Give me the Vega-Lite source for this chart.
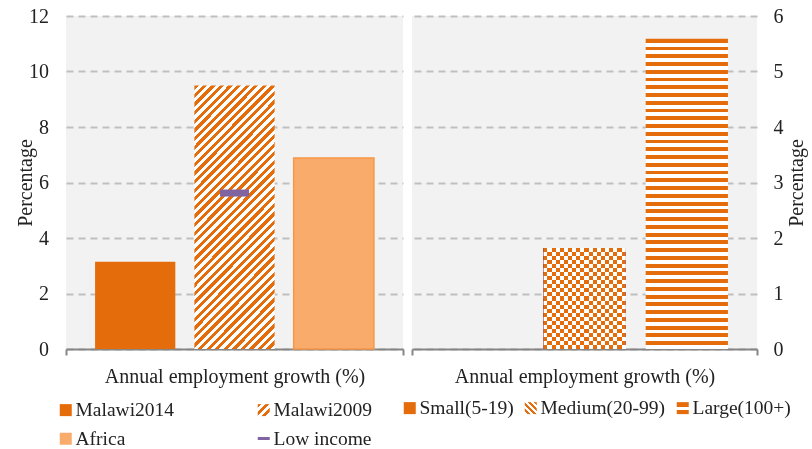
{
  "$schema": "https://vega.github.io/schema/vega-lite/v6.json",
  "background": "white",
  "padding": {"left": 15, "top": 6, "right": 5, "bottom": 0},
  "config": {
    "font": "Liberation Serif",
    "view": {"fill": "#F2F2F2", "stroke": null},
    "axisX": {
      "title": null, "tickBand": "extent", "ticks": true, "tickSize": 6, "tickColor": "#868686", "tickWidth": 2,
      "domainColor": "#868686", "domainWidth": 2, "labelAngle": 0, "labelFont": "Liberation Serif",
      "labelFontSize": 20, "labelColor": "#222", "labelPadding": 11, "labelLimit": 0, "grid": false
    },
    "axisY": {
      "titleFont": "Liberation Serif", "titleFontSize": 20, "titleFontWeight": "normal", "titleColor": "#222",
      "labelFont": "Liberation Serif", "labelFontSize": 20, "labelColor": "#222",
      "ticks": false, "tickSize": 0, "domain": false, "grid": true, "gridColor": "#BFBFBF", "gridWidth": 2, "gridDash": [7, 5]
    },
    "legend": {"symbolStrokeWidth": 0}
  },
  "hconcat": [
    {
      "width": 337,
      "height": 333,
      "data": {"values": [
        {"cat": "Annual employment growth (%)", "series": "Malawi2014", "value": 3.14},
        {"cat": "Annual employment growth (%)", "series": "Malawi2009", "value": 9.5},
        {"cat": "Annual employment growth (%)", "series": "Africa", "value": 6.88},
        {"cat": "Annual employment growth (%)", "series": "Low income", "value": 5.62}
      ]},
      "encoding": {
        "x": {"field": "cat", "type": "nominal", "scale": {"paddingInner": 0, "paddingOuter": 0}},
        "y": {"field": "value", "type": "quantitative", "scale": {"domain": [0, 12], "nice": false},
          "axis": {"title": "Percentage", "titlePadding": -7, "values": [0, 2, 4, 6, 8, 10, 12], "labelPadding": 17.5}}
      },
      "layer": [
        {
          "transform": [{"filter": "datum.series !== 'Low income'"}],
          "mark": {"type": "bar", "strokeWidth": 1.5},
          "encoding": {
            "xOffset": {"field": "series", "type": "nominal", "scale": {"domain": ["Malawi2014", "Malawi2009", "Africa"], "paddingInner": 0.192, "paddingOuter": 0.293}},
            "color": {
              "condition": [{"test": "datum.series === 'Malawi2009'", "value": {"gradient": "linear", "x1": 0, "y1": 0, "x2": 0.3655, "y2": 1.194, "stops": [
                {"offset":0,"color":"#e46c0a"},{"offset":0.0125,"color":"#e46c0a"},{"offset":0.0125,"color":"#fff"},{"offset":0.025,"color":"#fff"},
                {"offset":0.025,"color":"#e46c0a"},{"offset":0.0375,"color":"#e46c0a"},{"offset":0.0375,"color":"#fff"},{"offset":0.05,"color":"#fff"},
                {"offset":0.05,"color":"#e46c0a"},{"offset":0.0625,"color":"#e46c0a"},{"offset":0.0625,"color":"#fff"},{"offset":0.075,"color":"#fff"},
                {"offset":0.075,"color":"#e46c0a"},{"offset":0.0875,"color":"#e46c0a"},{"offset":0.0875,"color":"#fff"},{"offset":0.1,"color":"#fff"},
                {"offset":0.1,"color":"#e46c0a"},{"offset":0.1125,"color":"#e46c0a"},{"offset":0.1125,"color":"#fff"},{"offset":0.125,"color":"#fff"},
                {"offset":0.125,"color":"#e46c0a"},{"offset":0.1375,"color":"#e46c0a"},{"offset":0.1375,"color":"#fff"},{"offset":0.15,"color":"#fff"},
                {"offset":0.15,"color":"#e46c0a"},{"offset":0.1625,"color":"#e46c0a"},{"offset":0.1625,"color":"#fff"},{"offset":0.175,"color":"#fff"},
                {"offset":0.175,"color":"#e46c0a"},{"offset":0.1875,"color":"#e46c0a"},{"offset":0.1875,"color":"#fff"},{"offset":0.2,"color":"#fff"},
                {"offset":0.2,"color":"#e46c0a"},{"offset":0.2125,"color":"#e46c0a"},{"offset":0.2125,"color":"#fff"},{"offset":0.225,"color":"#fff"},
                {"offset":0.225,"color":"#e46c0a"},{"offset":0.2375,"color":"#e46c0a"},{"offset":0.2375,"color":"#fff"},{"offset":0.25,"color":"#fff"},
                {"offset":0.25,"color":"#e46c0a"},{"offset":0.2625,"color":"#e46c0a"},{"offset":0.2625,"color":"#fff"},{"offset":0.275,"color":"#fff"},
                {"offset":0.275,"color":"#e46c0a"},{"offset":0.2875,"color":"#e46c0a"},{"offset":0.2875,"color":"#fff"},{"offset":0.3,"color":"#fff"},
                {"offset":0.3,"color":"#e46c0a"},{"offset":0.3125,"color":"#e46c0a"},{"offset":0.3125,"color":"#fff"},{"offset":0.325,"color":"#fff"},
                {"offset":0.325,"color":"#e46c0a"},{"offset":0.3375,"color":"#e46c0a"},{"offset":0.3375,"color":"#fff"},{"offset":0.35,"color":"#fff"},
                {"offset":0.35,"color":"#e46c0a"},{"offset":0.3625,"color":"#e46c0a"},{"offset":0.3625,"color":"#fff"},{"offset":0.375,"color":"#fff"},
                {"offset":0.375,"color":"#e46c0a"},{"offset":0.3875,"color":"#e46c0a"},{"offset":0.3875,"color":"#fff"},{"offset":0.4,"color":"#fff"},
                {"offset":0.4,"color":"#e46c0a"},{"offset":0.4125,"color":"#e46c0a"},{"offset":0.4125,"color":"#fff"},{"offset":0.425,"color":"#fff"},
                {"offset":0.425,"color":"#e46c0a"},{"offset":0.4375,"color":"#e46c0a"},{"offset":0.4375,"color":"#fff"},{"offset":0.45,"color":"#fff"},
                {"offset":0.45,"color":"#e46c0a"},{"offset":0.4625,"color":"#e46c0a"},{"offset":0.4625,"color":"#fff"},{"offset":0.475,"color":"#fff"},
                {"offset":0.475,"color":"#e46c0a"},{"offset":0.4875,"color":"#e46c0a"},{"offset":0.4875,"color":"#fff"},{"offset":0.5,"color":"#fff"},
                {"offset":0.5,"color":"#e46c0a"},{"offset":0.5125,"color":"#e46c0a"},{"offset":0.5125,"color":"#fff"},{"offset":0.525,"color":"#fff"},
                {"offset":0.525,"color":"#e46c0a"},{"offset":0.5375,"color":"#e46c0a"},{"offset":0.5375,"color":"#fff"},{"offset":0.55,"color":"#fff"},
                {"offset":0.55,"color":"#e46c0a"},{"offset":0.5625,"color":"#e46c0a"},{"offset":0.5625,"color":"#fff"},{"offset":0.575,"color":"#fff"},
                {"offset":0.575,"color":"#e46c0a"},{"offset":0.5875,"color":"#e46c0a"},{"offset":0.5875,"color":"#fff"},{"offset":0.6,"color":"#fff"},
                {"offset":0.6,"color":"#e46c0a"},{"offset":0.6125,"color":"#e46c0a"},{"offset":0.6125,"color":"#fff"},{"offset":0.625,"color":"#fff"},
                {"offset":0.625,"color":"#e46c0a"},{"offset":0.6375,"color":"#e46c0a"},{"offset":0.6375,"color":"#fff"},{"offset":0.65,"color":"#fff"},
                {"offset":0.65,"color":"#e46c0a"},{"offset":0.6625,"color":"#e46c0a"},{"offset":0.6625,"color":"#fff"},{"offset":0.675,"color":"#fff"},
                {"offset":0.675,"color":"#e46c0a"},{"offset":0.6875,"color":"#e46c0a"},{"offset":0.6875,"color":"#fff"},{"offset":0.7,"color":"#fff"},
                {"offset":0.7,"color":"#e46c0a"},{"offset":0.7125,"color":"#e46c0a"},{"offset":0.7125,"color":"#fff"},{"offset":0.725,"color":"#fff"},
                {"offset":0.725,"color":"#e46c0a"},{"offset":0.7375,"color":"#e46c0a"},{"offset":0.7375,"color":"#fff"},{"offset":0.75,"color":"#fff"},
                {"offset":0.75,"color":"#e46c0a"},{"offset":0.7625,"color":"#e46c0a"},{"offset":0.7625,"color":"#fff"},{"offset":0.775,"color":"#fff"},
                {"offset":0.775,"color":"#e46c0a"},{"offset":0.7875,"color":"#e46c0a"},{"offset":0.7875,"color":"#fff"},{"offset":0.8,"color":"#fff"},
                {"offset":0.8,"color":"#e46c0a"},{"offset":0.8125,"color":"#e46c0a"},{"offset":0.8125,"color":"#fff"},{"offset":0.825,"color":"#fff"},
                {"offset":0.825,"color":"#e46c0a"},{"offset":0.8375,"color":"#e46c0a"},{"offset":0.8375,"color":"#fff"},{"offset":0.85,"color":"#fff"},
                {"offset":0.85,"color":"#e46c0a"},{"offset":0.8625,"color":"#e46c0a"},{"offset":0.8625,"color":"#fff"},{"offset":0.875,"color":"#fff"},
                {"offset":0.875,"color":"#e46c0a"},{"offset":0.8875,"color":"#e46c0a"},{"offset":0.8875,"color":"#fff"},{"offset":0.9,"color":"#fff"},
                {"offset":0.9,"color":"#e46c0a"},{"offset":0.9125,"color":"#e46c0a"},{"offset":0.9125,"color":"#fff"},{"offset":0.925,"color":"#fff"},
                {"offset":0.925,"color":"#e46c0a"},{"offset":0.9375,"color":"#e46c0a"},{"offset":0.9375,"color":"#fff"},{"offset":0.95,"color":"#fff"},
                {"offset":0.95,"color":"#e46c0a"},{"offset":0.9625,"color":"#e46c0a"},{"offset":0.9625,"color":"#fff"},{"offset":0.975,"color":"#fff"},
                {"offset":0.975,"color":"#e46c0a"},{"offset":0.9875,"color":"#e46c0a"},{"offset":0.9875,"color":"#fff"},{"offset":1,"color":"#fff"}
              ]}}],
              "field": "series", "type": "nominal",
              "scale": {"domain": ["Malawi2014", "Malawi2009", "Africa", "Low income"], "range": [
                "#E46C0A",
                {"expr": "{gradient: 'linear', x1: 0, y1: 0, x2: 1, y2: 1, stops: [{offset: 0, color: '#e46c0a'}, {offset: 0.167, color: '#e46c0a'}, {offset: 0.167, color: '#fff'}, {offset: 0.333, color: '#fff'}, {offset: 0.333, color: '#e46c0a'}, {offset: 0.5, color: '#e46c0a'}, {offset: 0.5, color: '#fff'}, {offset: 0.667, color: '#fff'}, {offset: 0.667, color: '#e46c0a'}, {offset: 0.833, color: '#e46c0a'}, {offset: 0.833, color: '#fff'}, {offset: 1, color: '#fff'}]}"},
                "#F8AB6B",
                {"expr": "{gradient: 'linear', x1: 0, y1: 0, x2: 0, y2: 1, stops: [{offset: 0, color: 'rgba(128,100,162,0)'}, {offset: 0.36, color: 'rgba(128,100,162,0)'}, {offset: 0.36, color: '#8064A2'}, {offset: 0.64, color: '#8064A2'}, {offset: 0.64, color: 'rgba(128,100,162,0)'}, {offset: 1, color: 'rgba(128,100,162,0)'}]}"}
              ]},
              "legend": {
                "title": null, "orient": "none", "direction": "horizontal", "legendX": -10, "legendY": 384, "columns": 2, "columnPadding": 79, "rowPadding": 8,
                "symbolType": "square", "symbolSize": 144, "symbolStrokeWidth": 0, "symbolOpacity": 1,
                "labelFont": "Liberation Serif", "labelFontSize": 19.5, "labelColor": "#222", "labelOffset": 0, "labelLimit": 0
              }
            },
            "stroke": {"condition": {"test": "datum.series === 'Africa'", "value": "#F79646"}, "value": null}
          }
        },
        {
          "transform": [{"filter": "datum.series === 'Low income'"}],
          "mark": {"type": "tick", "size": 29, "thickness": 7, "opacity": 1},
          "encoding": {"color": {"condition": {"test": "datum.series === 'Low income'", "value": "#8064A2"}, "field": "series", "type": "nominal"}}
        }
      ]
    },
    {
      "width": 345,
      "height": 333,
      "data": {"values": [
        {"cat": "Annual employment growth (%)", "series": "Small(5-19)", "value": 0},
        {"cat": "Annual employment growth (%)", "series": "Medium(20-99)", "value": 1.82},
        {"cat": "Annual employment growth (%)", "series": "Large(100+)", "value": 5.59}
      ]},
      "encoding": {
        "x": {"field": "cat", "type": "nominal", "scale": {"paddingInner": 0, "paddingOuter": 0}},
        "xOffset": {"field": "series", "type": "nominal", "scale": {"domain": ["Small(5-19)", "Medium(20-99)", "Large(100+)"], "paddingInner": 0.196, "paddingOuter": 0.284}},
        "y": {"field": "value", "type": "quantitative", "scale": {"domain": [0, 6], "nice": false},
          "axis": {"orient": "right", "title": "Percentage", "titleAngle": 270, "titleBaseline": "top", "titlePadding": 3, "values": [0, 1, 2, 3, 4, 5, 6], "labelPadding": 16}}
      },
      "layer": [
        {
          "mark": {"type": "bar"},
          "encoding": {
            "color": {
              "condition": [{"test": "datum.series === 'Large(100+)'", "value": {"gradient": "linear", "x1": 0, "y1": 0, "x2": 0, "y2": 1, "stops": [
                {"offset":0,"color":"#e46c0a"},{"offset":0.0125,"color":"#e46c0a"},{"offset":0.0125,"color":"#fff"},{"offset":0.025,"color":"#fff"},
                {"offset":0.025,"color":"#e46c0a"},{"offset":0.0375,"color":"#e46c0a"},{"offset":0.0375,"color":"#fff"},{"offset":0.05,"color":"#fff"},
                {"offset":0.05,"color":"#e46c0a"},{"offset":0.0625,"color":"#e46c0a"},{"offset":0.0625,"color":"#fff"},{"offset":0.075,"color":"#fff"},
                {"offset":0.075,"color":"#e46c0a"},{"offset":0.0875,"color":"#e46c0a"},{"offset":0.0875,"color":"#fff"},{"offset":0.1,"color":"#fff"},
                {"offset":0.1,"color":"#e46c0a"},{"offset":0.1125,"color":"#e46c0a"},{"offset":0.1125,"color":"#fff"},{"offset":0.125,"color":"#fff"},
                {"offset":0.125,"color":"#e46c0a"},{"offset":0.1375,"color":"#e46c0a"},{"offset":0.1375,"color":"#fff"},{"offset":0.15,"color":"#fff"},
                {"offset":0.15,"color":"#e46c0a"},{"offset":0.1625,"color":"#e46c0a"},{"offset":0.1625,"color":"#fff"},{"offset":0.175,"color":"#fff"},
                {"offset":0.175,"color":"#e46c0a"},{"offset":0.1875,"color":"#e46c0a"},{"offset":0.1875,"color":"#fff"},{"offset":0.2,"color":"#fff"},
                {"offset":0.2,"color":"#e46c0a"},{"offset":0.2125,"color":"#e46c0a"},{"offset":0.2125,"color":"#fff"},{"offset":0.225,"color":"#fff"},
                {"offset":0.225,"color":"#e46c0a"},{"offset":0.2375,"color":"#e46c0a"},{"offset":0.2375,"color":"#fff"},{"offset":0.25,"color":"#fff"},
                {"offset":0.25,"color":"#e46c0a"},{"offset":0.2625,"color":"#e46c0a"},{"offset":0.2625,"color":"#fff"},{"offset":0.275,"color":"#fff"},
                {"offset":0.275,"color":"#e46c0a"},{"offset":0.2875,"color":"#e46c0a"},{"offset":0.2875,"color":"#fff"},{"offset":0.3,"color":"#fff"},
                {"offset":0.3,"color":"#e46c0a"},{"offset":0.3125,"color":"#e46c0a"},{"offset":0.3125,"color":"#fff"},{"offset":0.325,"color":"#fff"},
                {"offset":0.325,"color":"#e46c0a"},{"offset":0.3375,"color":"#e46c0a"},{"offset":0.3375,"color":"#fff"},{"offset":0.35,"color":"#fff"},
                {"offset":0.35,"color":"#e46c0a"},{"offset":0.3625,"color":"#e46c0a"},{"offset":0.3625,"color":"#fff"},{"offset":0.375,"color":"#fff"},
                {"offset":0.375,"color":"#e46c0a"},{"offset":0.3875,"color":"#e46c0a"},{"offset":0.3875,"color":"#fff"},{"offset":0.4,"color":"#fff"},
                {"offset":0.4,"color":"#e46c0a"},{"offset":0.4125,"color":"#e46c0a"},{"offset":0.4125,"color":"#fff"},{"offset":0.425,"color":"#fff"},
                {"offset":0.425,"color":"#e46c0a"},{"offset":0.4375,"color":"#e46c0a"},{"offset":0.4375,"color":"#fff"},{"offset":0.45,"color":"#fff"},
                {"offset":0.45,"color":"#e46c0a"},{"offset":0.4625,"color":"#e46c0a"},{"offset":0.4625,"color":"#fff"},{"offset":0.475,"color":"#fff"},
                {"offset":0.475,"color":"#e46c0a"},{"offset":0.4875,"color":"#e46c0a"},{"offset":0.4875,"color":"#fff"},{"offset":0.5,"color":"#fff"},
                {"offset":0.5,"color":"#e46c0a"},{"offset":0.5125,"color":"#e46c0a"},{"offset":0.5125,"color":"#fff"},{"offset":0.525,"color":"#fff"},
                {"offset":0.525,"color":"#e46c0a"},{"offset":0.5375,"color":"#e46c0a"},{"offset":0.5375,"color":"#fff"},{"offset":0.55,"color":"#fff"},
                {"offset":0.55,"color":"#e46c0a"},{"offset":0.5625,"color":"#e46c0a"},{"offset":0.5625,"color":"#fff"},{"offset":0.575,"color":"#fff"},
                {"offset":0.575,"color":"#e46c0a"},{"offset":0.5875,"color":"#e46c0a"},{"offset":0.5875,"color":"#fff"},{"offset":0.6,"color":"#fff"},
                {"offset":0.6,"color":"#e46c0a"},{"offset":0.6125,"color":"#e46c0a"},{"offset":0.6125,"color":"#fff"},{"offset":0.625,"color":"#fff"},
                {"offset":0.625,"color":"#e46c0a"},{"offset":0.6375,"color":"#e46c0a"},{"offset":0.6375,"color":"#fff"},{"offset":0.65,"color":"#fff"},
                {"offset":0.65,"color":"#e46c0a"},{"offset":0.6625,"color":"#e46c0a"},{"offset":0.6625,"color":"#fff"},{"offset":0.675,"color":"#fff"},
                {"offset":0.675,"color":"#e46c0a"},{"offset":0.6875,"color":"#e46c0a"},{"offset":0.6875,"color":"#fff"},{"offset":0.7,"color":"#fff"},
                {"offset":0.7,"color":"#e46c0a"},{"offset":0.7125,"color":"#e46c0a"},{"offset":0.7125,"color":"#fff"},{"offset":0.725,"color":"#fff"},
                {"offset":0.725,"color":"#e46c0a"},{"offset":0.7375,"color":"#e46c0a"},{"offset":0.7375,"color":"#fff"},{"offset":0.75,"color":"#fff"},
                {"offset":0.75,"color":"#e46c0a"},{"offset":0.7625,"color":"#e46c0a"},{"offset":0.7625,"color":"#fff"},{"offset":0.775,"color":"#fff"},
                {"offset":0.775,"color":"#e46c0a"},{"offset":0.7875,"color":"#e46c0a"},{"offset":0.7875,"color":"#fff"},{"offset":0.8,"color":"#fff"},
                {"offset":0.8,"color":"#e46c0a"},{"offset":0.8125,"color":"#e46c0a"},{"offset":0.8125,"color":"#fff"},{"offset":0.825,"color":"#fff"},
                {"offset":0.825,"color":"#e46c0a"},{"offset":0.8375,"color":"#e46c0a"},{"offset":0.8375,"color":"#fff"},{"offset":0.85,"color":"#fff"},
                {"offset":0.85,"color":"#e46c0a"},{"offset":0.8625,"color":"#e46c0a"},{"offset":0.8625,"color":"#fff"},{"offset":0.875,"color":"#fff"},
                {"offset":0.875,"color":"#e46c0a"},{"offset":0.8875,"color":"#e46c0a"},{"offset":0.8875,"color":"#fff"},{"offset":0.9,"color":"#fff"},
                {"offset":0.9,"color":"#e46c0a"},{"offset":0.9125,"color":"#e46c0a"},{"offset":0.9125,"color":"#fff"},{"offset":0.925,"color":"#fff"},
                {"offset":0.925,"color":"#e46c0a"},{"offset":0.9375,"color":"#e46c0a"},{"offset":0.9375,"color":"#fff"},{"offset":0.95,"color":"#fff"},
                {"offset":0.95,"color":"#e46c0a"},{"offset":0.9625,"color":"#e46c0a"},{"offset":0.9625,"color":"#fff"},{"offset":0.975,"color":"#fff"},
                {"offset":0.975,"color":"#e46c0a"},{"offset":0.9875,"color":"#e46c0a"},{"offset":0.9875,"color":"#fff"},{"offset":1,"color":"#fff"}
              ]}}],
              "field": "series", "type": "nominal",
              "scale": {"domain": ["Small(5-19)", "Medium(20-99)", "Large(100+)"], "range": [
                "#E46C0A",
                {"expr": "{gradient: 'linear', x1: 1, y1: 0, x2: 0, y2: 1, stops: [{offset: 0, color: '#e46c0a'}, {offset: 0.125, color: '#e46c0a'}, {offset: 0.125, color: '#fff'}, {offset: 0.25, color: '#fff'}, {offset: 0.25, color: '#e46c0a'}, {offset: 0.375, color: '#e46c0a'}, {offset: 0.375, color: '#fff'}, {offset: 0.5, color: '#fff'}, {offset: 0.5, color: '#e46c0a'}, {offset: 0.625, color: '#e46c0a'}, {offset: 0.625, color: '#fff'}, {offset: 0.75, color: '#fff'}, {offset: 0.75, color: '#e46c0a'}, {offset: 0.875, color: '#e46c0a'}, {offset: 0.875, color: '#fff'}, {offset: 1, color: '#fff'}]}"},
                {"expr": "{gradient: 'linear', x1: 0, y1: 0, x2: 0, y2: 1, stops: [{offset: 0, color: '#e46c0a'}, {offset: 0.38, color: '#e46c0a'}, {offset: 0.38, color: '#fff'}, {offset: 0.62, color: '#fff'}, {offset: 0.62, color: '#e46c0a'}, {offset: 1, color: '#e46c0a'}]}"}
              ]},
              "legend": {
                "title": null, "orient": "none", "direction": "horizontal", "legendX": -12, "legendY": 382, "columns": 3, "columnPadding": 7,
                "symbolType": "square", "symbolSize": 144, "symbolStrokeWidth": 0, "symbolOpacity": 1,
                "labelFont": "Liberation Serif", "labelFontSize": 19.5, "labelColor": "#222", "labelOffset": 0, "labelLimit": 0
              }
            }
          }
        },
        {
          "transform": [{"filter": "datum.series === 'Medium(20-99)'"}],
          "mark": {"type": "bar", "fill": {"gradient": "linear", "x1": 0, "y1": 0, "x2": 1, "y2": 0, "stops": [
            {"offset":0,"color":"#000"},{"offset":0.05,"color":"#000"},{"offset":0.05,"color":"#fff"},{"offset":0.1,"color":"#fff"},
            {"offset":0.1,"color":"#000"},{"offset":0.15,"color":"#000"},{"offset":0.15,"color":"#fff"},{"offset":0.2,"color":"#fff"},
            {"offset":0.2,"color":"#000"},{"offset":0.25,"color":"#000"},{"offset":0.25,"color":"#fff"},{"offset":0.3,"color":"#fff"},
            {"offset":0.3,"color":"#000"},{"offset":0.35,"color":"#000"},{"offset":0.35,"color":"#fff"},{"offset":0.4,"color":"#fff"},
            {"offset":0.4,"color":"#000"},{"offset":0.45,"color":"#000"},{"offset":0.45,"color":"#fff"},{"offset":0.5,"color":"#fff"},
            {"offset":0.5,"color":"#000"},{"offset":0.55,"color":"#000"},{"offset":0.55,"color":"#fff"},{"offset":0.6,"color":"#fff"},
            {"offset":0.6,"color":"#000"},{"offset":0.65,"color":"#000"},{"offset":0.65,"color":"#fff"},{"offset":0.7,"color":"#fff"},
            {"offset":0.7,"color":"#000"},{"offset":0.75,"color":"#000"},{"offset":0.75,"color":"#fff"},{"offset":0.8,"color":"#fff"},
            {"offset":0.8,"color":"#000"},{"offset":0.85,"color":"#000"},{"offset":0.85,"color":"#fff"},{"offset":0.9,"color":"#fff"},
            {"offset":0.9,"color":"#000"},{"offset":0.95,"color":"#000"},{"offset":0.95,"color":"#fff"},{"offset":1,"color":"#fff"}
          ]}}
        },
        {
          "transform": [{"filter": "datum.series === 'Medium(20-99)'"}],
          "mark": {"type": "bar", "blend": "difference", "fill": {"gradient": "linear", "x1": 0, "y1": 0, "x2": 0, "y2": 1, "stops": [
            {"offset":0,"color":"#000"},{"offset":0.04,"color":"#000"},{"offset":0.04,"color":"#fff"},{"offset":0.08,"color":"#fff"},
            {"offset":0.08,"color":"#000"},{"offset":0.12,"color":"#000"},{"offset":0.12,"color":"#fff"},{"offset":0.16,"color":"#fff"},
            {"offset":0.16,"color":"#000"},{"offset":0.2,"color":"#000"},{"offset":0.2,"color":"#fff"},{"offset":0.24,"color":"#fff"},
            {"offset":0.24,"color":"#000"},{"offset":0.28,"color":"#000"},{"offset":0.28,"color":"#fff"},{"offset":0.32,"color":"#fff"},
            {"offset":0.32,"color":"#000"},{"offset":0.36,"color":"#000"},{"offset":0.36,"color":"#fff"},{"offset":0.4,"color":"#fff"},
            {"offset":0.4,"color":"#000"},{"offset":0.44,"color":"#000"},{"offset":0.44,"color":"#fff"},{"offset":0.48,"color":"#fff"},
            {"offset":0.48,"color":"#000"},{"offset":0.52,"color":"#000"},{"offset":0.52,"color":"#fff"},{"offset":0.56,"color":"#fff"},
            {"offset":0.56,"color":"#000"},{"offset":0.6,"color":"#000"},{"offset":0.6,"color":"#fff"},{"offset":0.64,"color":"#fff"},
            {"offset":0.64,"color":"#000"},{"offset":0.68,"color":"#000"},{"offset":0.68,"color":"#fff"},{"offset":0.72,"color":"#fff"},
            {"offset":0.72,"color":"#000"},{"offset":0.76,"color":"#000"},{"offset":0.76,"color":"#fff"},{"offset":0.8,"color":"#fff"},
            {"offset":0.8,"color":"#000"},{"offset":0.84,"color":"#000"},{"offset":0.84,"color":"#fff"},{"offset":0.88,"color":"#fff"},
            {"offset":0.88,"color":"#000"},{"offset":0.92,"color":"#000"},{"offset":0.92,"color":"#fff"},{"offset":0.96,"color":"#fff"},
            {"offset":0.96,"color":"#000"},{"offset":1,"color":"#000"}
          ]}}
        },
        {
          "transform": [{"filter": "datum.series === 'Medium(20-99)'"}],
          "mark": {"type": "bar", "blend": "lighten", "fill": "#E46C0A"}
        }
      ]
    }
  ],
  "spacing": 9,
  "bounds": "flush",
  "resolve": {"scale": {"color": "independent", "x": "independent", "xOffset": "independent", "y": "independent"}, "legend": {"color": "independent"}}
}
